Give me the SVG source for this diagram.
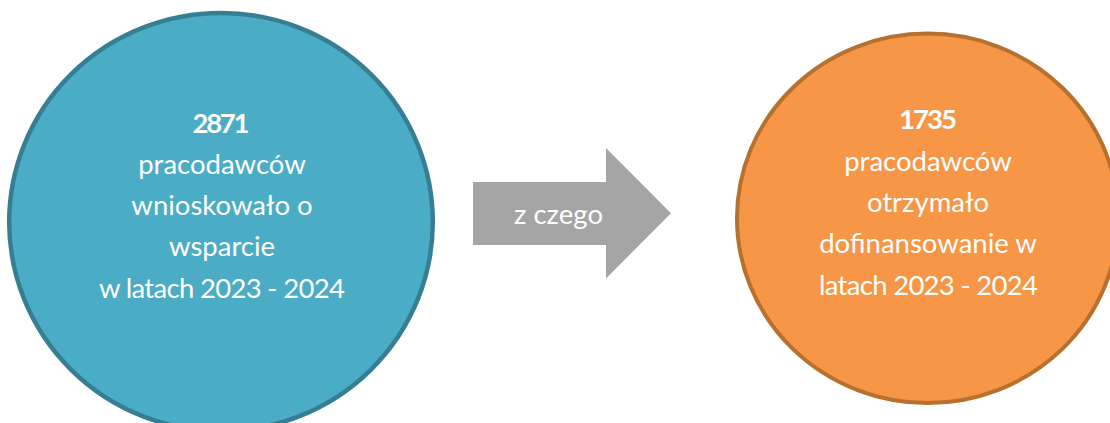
<svg xmlns="http://www.w3.org/2000/svg" width="1110" height="423" viewBox="0 0 1110 423">
<style>
.t{font-family:Lato,"Open Sans","Liberation Sans",sans-serif;font-size:27.5px;fill:#ffffff;text-anchor:middle}
.b{font-weight:bold}
</style>
<rect width="1110" height="423" fill="#ffffff"/>
<g id="node-applied">
<ellipse cx="221" cy="222" rx="211.8" ry="209" fill="#4BACC6" stroke="#367F93" stroke-width="4.5"/>
<text class="t b" x="221" y="133" textLength="57">2871</text>
<text class="t" x="222" y="174">pracodawców</text>
<text class="t" x="222" y="215">wnioskowało o</text>
<text class="t" x="222" y="256">wsparcie</text>
<text class="t" x="222" y="297.5" textLength="246">w latach 2023 - 2024</text>
</g>
<g id="connectors">
<g id="arrow">
<polygon points="473,182 606,182 606,148 671,213.3 606,278.5 606,245 473,245" fill="#A5A5A5"/>
<text class="t" x="558.5" y="223.5">z czego</text>
</g>
</g>
<g id="node-received">
<ellipse cx="927.6" cy="218.3" rx="190.6" ry="184.7" fill="#F79646" stroke="#B7712F" stroke-width="4"/>
<text class="t b" x="928" y="129.3" textLength="58">1735</text>
<text class="t" x="928" y="170.7">pracodawców</text>
<text class="t" x="928" y="212">otrzymało</text>
<text class="t" x="928" y="253.3">dofinansowanie w</text>
<text class="t" x="928.5" y="294.7" textLength="219">latach 2023 - 2024</text>
</g>
</svg>
